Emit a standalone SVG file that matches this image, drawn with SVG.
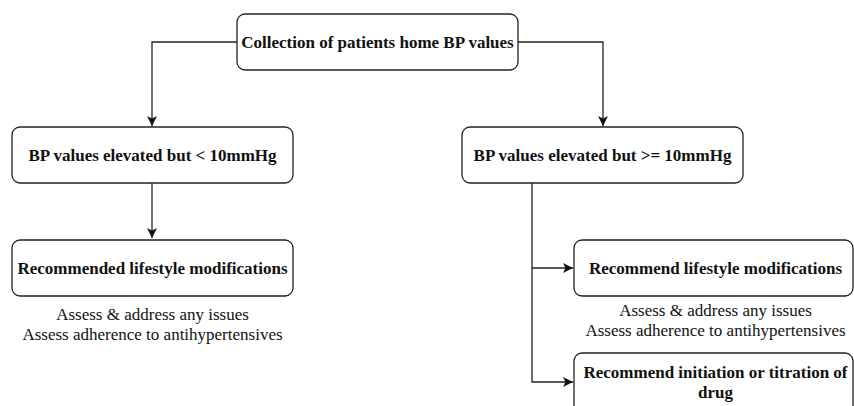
<svg xmlns="http://www.w3.org/2000/svg" width="854" height="406" viewBox="0 0 854 406">
<defs>
<marker id="arr" viewBox="0 0 10 10" refX="10" refY="5" markerWidth="10" markerHeight="10" markerUnits="userSpaceOnUse" orient="auto">
<path d="M0,0 L10,5 L0,10 L2.5,5 Z" fill="#111"/>
</marker>
<style>
.box{fill:#fff;stroke:#222;stroke-width:1.3}
.t{font-weight:bold;font-size:17px;fill:#111;text-anchor:middle}
.n{font-size:17px;fill:#111;text-anchor:middle}
.c{fill:none;stroke:#222;stroke-width:1.3}
</style>
</defs>
<rect width="854" height="406" fill="#fff"/>
<g id="connectors">
<path class="c" d="M237,42 H152 V126" marker-end="url(#arr)"/>
<path class="c" d="M518,42 H603 V126" marker-end="url(#arr)"/>
<path class="c" d="M152,183 V238" marker-end="url(#arr)"/>
<path class="c" d="M532,183 V382 H573" marker-end="url(#arr)"/>
<path class="c" d="M532,268 H573" marker-end="url(#arr)"/>
</g>
<g font-family="Liberation Serif, Tinos, Times New Roman, DejaVu Serif, serif">
<g id="n1">
<rect class="box" x="237" y="14" width="281" height="56" rx="8"/>
<text class="t" x="377.5" y="48">Collection of patients home BP values</text>
</g>
<g id="n2">
<rect class="box" x="12" y="127" width="281" height="56" rx="8"/>
<text class="t" x="152.5" y="160.5">BP values elevated but &lt; 10mmHg</text>
</g>
<g id="n3">
<rect class="box" x="462" y="127" width="281" height="56" rx="8"/>
<text class="t" x="602.5" y="160.5">BP values elevated but &gt;= 10mmHg</text>
</g>
<g id="n4">
<rect class="box" x="12" y="240" width="281" height="56" rx="8"/>
<text class="t" x="152.5" y="274">Recommended lifestyle modifications</text>
</g>
<g id="n4note">
<text class="n" x="152.5" y="320">Assess &amp; address any issues</text>
<text class="n" x="152.5" y="340">Assess adherence to antihypertensives</text>
</g>
<g id="n5">
<rect class="box" x="574" y="240" width="279" height="56" rx="8"/>
<text class="t" x="715.5" y="274">Recommend lifestyle modifications</text>
</g>
<g id="n5note">
<text class="n" x="715.5" y="316">Assess &amp; address any issues</text>
<text class="n" x="715.5" y="336">Assess adherence to antihypertensives</text>
</g>
<g id="n6">
<rect class="box" x="574" y="353" width="279" height="70" rx="8"/>
<text class="t" x="715.5" y="378">Recommend initiation or titration of</text>
<text class="t" x="715.5" y="398">drug</text>
</g>
</g>
</svg>
